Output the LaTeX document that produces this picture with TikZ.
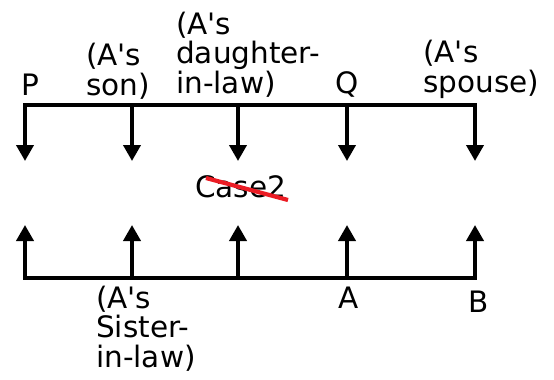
\documentclass[tikz,border=0pt]{standalone}
\usepackage{fontspec}
\setmainfont{DejaVu Sans}
\usetikzlibrary{arrows.meta}
\newcommand{\apo}{\textquotesingle}
\begin{document}
\begin{tikzpicture}[x=1pt,y=-1pt,
  lbl/.style={anchor=base west,inner sep=0pt,align=left,
    font=\fontsize{29.5}{29.5}\selectfont},
  bar/.style={line width=3.8pt,line join=miter},
  tipboth/.style={bar,{Triangle[length=16pt,width=17pt]}-{Triangle[length=16pt,width=17pt]}},
  tip/.style={bar,-{Triangle[length=16pt,width=17pt]}}]
\useasboundingbox (0,0) rectangle (554,380);
% junctions and tips
\foreach \n/\x in {1/25,2/132,3/238,4/347,5/475}{
  \coordinate (t\n) at (\x,105);
  \coordinate (d\n) at (\x,161);
  \coordinate (b\n) at (\x,278);
  \coordinate (u\n) at (\x,225);
}
\draw[tipboth] (d1) -- (t1) -- (t5) -- (d5);
\draw[tip] (t2) -- (d2);
\draw[tip] (t3) -- (d3);
\draw[tip] (t4) -- (d4);
\draw[tipboth] (u1) -- (b1) -- (b5) -- (u5);
\draw[tip] (b2) -- (u2);
\draw[tip] (b3) -- (u3);
\draw[tip] (b4) -- (u4);
% labels (base = baseline of last line)
\node[lbl] (p) at (21,95) {P};
\node[lbl] (son) at (86,95) {(A\apo s\\son)};
\node[lbl] (dil) at (176,93) {(A\apo s\\daughter-\\in-law)};
\node[lbl] (q) at (335,93) {Q};
\node[lbl] (sp) at (423,92) {(A\apo s\\spouse)};
\node[lbl] (sil) at (96,367) {(A\apo s\\Sister-\\in-law)};
\node[lbl] (a) at (338,308) {A};
\node[lbl] (b) at (468,312) {B};
\node[lbl] (case) at (195,197) {Case2};
\coordinate (s1) at (206,178);
\coordinate (s2) at (288,200);
\draw[line width=4.2pt,color={rgb,255:red,235;green,28;blue,36}] (s1) -- (s2);
\end{tikzpicture}
\end{document}
